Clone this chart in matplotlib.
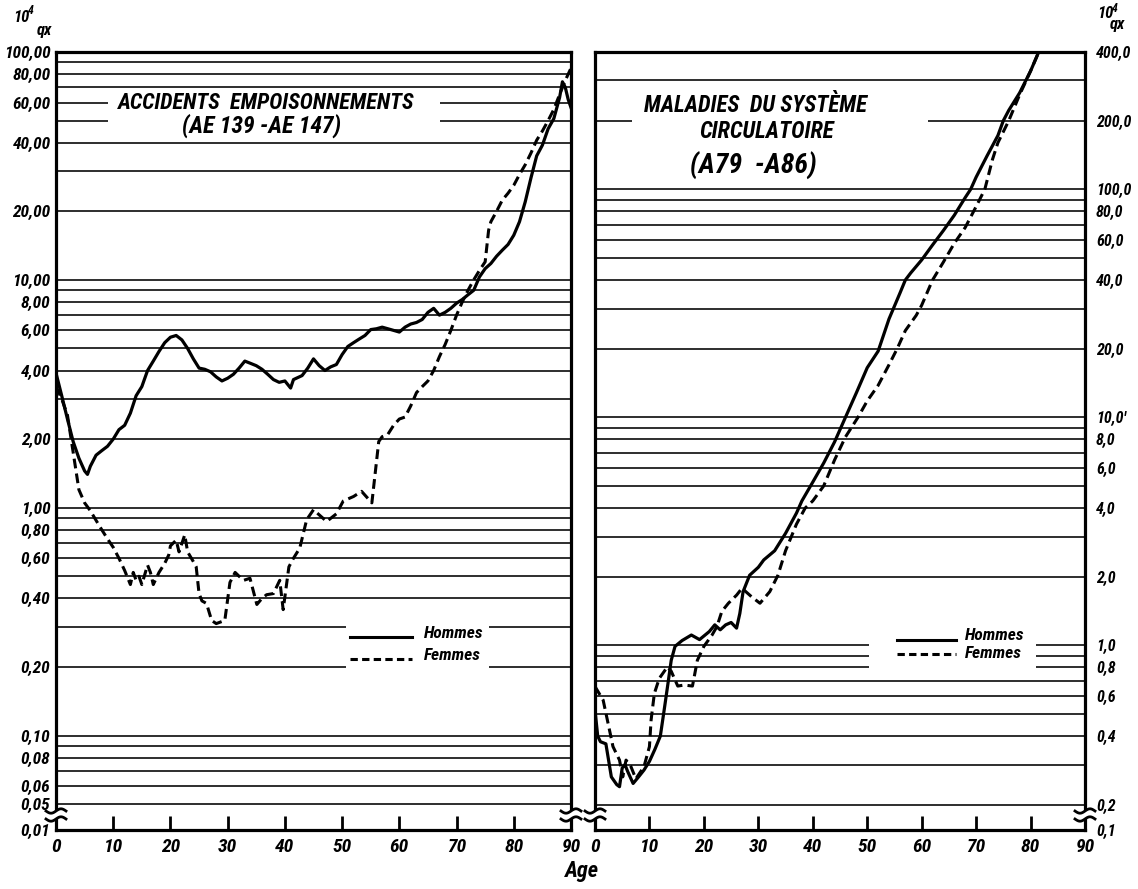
import numpy as np
import matplotlib
matplotlib.use("Agg")
import matplotlib.pyplot as plt
from matplotlib import font_manager
from matplotlib.font_manager import FontProperties
from matplotlib.patches import Rectangle
from matplotlib.lines import Line2D
from matplotlib.ticker import NullLocator

# ---------------- data ----------------
age_ticks = [0, 10, 20, 30, 40, 50, 60, 70, 80, 90]
age_tick_labels = ["0", "10", "20", "30", "40", "50", "60", "70", "80", "90"]

# Accidents, empoisonnements - Hommes
acc_h_age = [0, 1, 2, 3, 4, 5, 5.5, 6, 7, 8, 9, 10, 11, 12, 13, 14, 15, 16, 17, 18, 19,
             20, 21, 22, 23, 24, 25, 26, 27, 28, 29, 30, 31, 32, 33, 34, 35, 36, 37, 38,
             39, 40, 41, 41.5, 42, 43, 44, 45, 46, 47, 48, 49, 50, 51, 52, 53, 54, 55,
             56, 57, 58, 59, 60, 61, 62, 63, 64, 65, 66, 67, 68, 69, 70, 71, 72, 73, 74,
             75, 76, 77, 78, 79, 80, 81, 82, 83, 84, 85, 86, 87, 88, 88.5, 89, 89.5, 90]
acc_h_val = [3.9, 3.1, 2.45, 1.95, 1.65, 1.45, 1.40, 1.52, 1.70, 1.78, 1.86, 2.0, 2.2,
             2.3, 2.6, 3.1, 3.4, 4.0, 4.4, 4.85, 5.3, 5.6, 5.7, 5.45, 5.0, 4.5, 4.1, 4.05,
             3.95, 3.75, 3.6, 3.7, 3.85, 4.1, 4.4, 4.3, 4.2, 4.05, 3.85, 3.65, 3.55, 3.6,
             3.35, 3.65, 3.7, 3.8, 4.1, 4.5, 4.2, 4.0, 4.15, 4.25, 4.7, 5.1, 5.3, 5.5, 5.7,
             6.05, 6.1, 6.2, 6.1, 6.0, 5.9, 6.2, 6.4, 6.5, 6.7, 7.2, 7.5, 7.0, 7.2, 7.5,
             7.9, 8.2, 8.6, 9.0, 10.3, 11.2, 11.8, 12.7, 13.5, 14.3, 15.7, 18, 22, 28, 35,
             39, 46, 51, 63, 74, 70, 62, 57]

# Accidents, empoisonnements - Femmes
acc_f_age = [0, 0.5, 1, 2, 3, 4, 5, 6, 7, 8, 9, 10, 11, 12, 13, 13.5, 14, 14.5, 15, 16,
             16.5, 17, 18, 19, 19.7, 20, 20.5, 21, 21.5, 22.5, 23, 24, 24.5, 25, 25.5,
             26.3, 27.2, 28, 29.5, 30.4, 31.3, 32, 32.8, 33.9, 35.1, 36, 36.8, 38, 39.1,
             39.7, 40.7, 41.5, 42.6, 43.8, 45, 46, 47.3, 49, 50.2, 52, 53.4, 55.2, 56.4,
             57, 58, 59, 60, 61, 62, 63, 64, 65, 66, 67, 68, 69, 70, 71, 72, 73, 74, 75,
             75.6, 76, 77, 78, 79, 80, 81, 82, 83, 84, 85, 86, 87, 88, 89, 90]
acc_f_val = [3.4, 3.2, 3.0, 2.55, 1.75, 1.2, 1.05, 0.97, 0.88, 0.80, 0.73, 0.67, 0.60,
             0.53, 0.46, 0.52, 0.48, 0.50, 0.46, 0.56, 0.52, 0.46, 0.52, 0.57, 0.62, 0.68,
             0.70, 0.72, 0.64, 0.76, 0.64, 0.58, 0.55, 0.42, 0.39, 0.38, 0.32, 0.31, 0.32,
             0.47, 0.52, 0.50, 0.48, 0.49, 0.376, 0.40, 0.415, 0.42, 0.48, 0.357, 0.55,
             0.60, 0.665, 0.885, 0.98, 0.93, 0.87, 0.94, 1.07, 1.12, 1.18, 1.05, 1.95,
             2.05, 2.1, 2.3, 2.45, 2.5, 2.8, 3.2, 3.4, 3.6, 4.0, 4.6, 5.2, 6.0, 7.0, 8.0,
             9.0, 10.0, 11.0, 12.0, 16.5, 18.0, 20.0, 22.4, 24.0, 26.0, 29.0, 32.0, 36.0,
             41.0, 45.0, 50.0, 56.0, 65.0, 75.0, 85.0]

# Maladies du systeme circulatoire - Hommes
circ_h_age = [0, 0.5, 1, 2, 3, 4, 4.5, 5, 5.5, 6, 7, 8, 9, 10, 11, 12, 12.8, 13.4, 14,
              14.7, 16, 17.7, 19.2, 21, 22, 23, 24, 25, 26, 26.6, 27.2, 28.4, 30, 31, 33,
              35, 37, 38, 40, 42, 44, 46, 48, 50, 52, 54, 56, 57, 58, 60, 62, 64, 66, 68,
              69, 70, 72, 74, 75, 76, 78, 80, 81.5]
circ_h_val = [0.52, 0.40, 0.378, 0.37, 0.265, 0.245, 0.24, 0.29, 0.30, 0.28, 0.248,
              0.265, 0.284, 0.31, 0.35, 0.40, 0.54, 0.68, 0.86, 0.99, 1.05, 1.11, 1.06,
              1.15, 1.23, 1.17, 1.23, 1.26, 1.19, 1.38, 1.72, 2.03, 2.2, 2.37, 2.6, 3.1,
              3.8, 4.3, 5.2, 6.3, 7.8, 10.0, 12.8, 16.5, 19.5, 27.0, 35.0, 40.0, 43.0, 49.0,
              57.0, 66.0, 77.0, 92.0, 100.0, 113.0, 140.0, 172.0, 200.0, 222.0, 265.0,
              330.0, 400.0]

# Maladies du systeme circulatoire - Femmes
circ_f_age = [0, 1.5, 2.4, 3.3, 4.5, 5.1, 5.7, 6.6, 7.5, 9, 10, 10.3, 10.9, 11.8, 13.3,
              14, 15.2, 16.4, 17.9, 18.8, 20, 21.5, 22.4, 23.3, 24.5, 26, 27, 28.8, 30.3,
              32.1, 33.6, 35, 37, 38.6, 40, 42, 44, 46, 48.3, 50, 52, 54, 55.5, 57, 59, 60,
              62, 64, 66, 68, 70, 71.6, 73, 74, 76, 78, 80, 81.5]
circ_f_val = [0.66, 0.575, 0.455, 0.36, 0.314, 0.265, 0.314, 0.294, 0.26, 0.294, 0.36,
              0.47, 0.615, 0.716, 0.805, 0.77, 0.663, 0.67, 0.663, 0.86, 0.99, 1.11, 1.21,
              1.41, 1.53, 1.66, 1.78, 1.63, 1.53, 1.72, 2.03, 2.6, 3.4, 4.0, 4.3, 5.0, 6.5,
              8.2, 10.0, 11.8, 13.8, 17.0, 20.0, 24.0, 28.0, 31.0, 40.0, 48.0, 58.0, 68.0,
              84.0, 100.0, 135.0, 160.0, 200.0, 260.0, 330.0, 400.0]

# grid lines (log paper) and axis labels
acc_grid = [90, 80, 70, 60, 50, 40, 30, 20, 10, 9, 8, 7, 6, 5, 4, 3, 2, 1,
            0.9, 0.8, 0.7, 0.6, 0.5, 0.4, 0.3, 0.2, 0.1, 0.09, 0.08, 0.07, 0.06, 0.05]
acc_tick_vals = [100, 80, 60, 40, 20, 10, 8, 6, 4, 2, 1, 0.8, 0.6, 0.4, 0.2, 0.1,
                 0.08, 0.06, 0.05]
acc_tick_labels = ["100,00", "80,00", "60,00", "40,00", "20,00", "10,00", "8,00",
                   "6,00", "4,00", "2,00", "1,00", "0,80", "0,60", "0,40", "0,20",
                   "0,10", "0,08", "0,06", "0,05"]
acc_break_label = "0,01"

circ_grid = [300, 200, 100, 90, 80, 70, 60, 50, 40, 30, 20, 10, 9, 8, 7, 6, 5, 4, 3, 2,
             1, 0.9, 0.8, 0.7, 0.6, 0.5, 0.4, 0.3, 0.2]
circ_tick_vals = [400, 200, 100, 80, 60, 40, 20, 10, 8, 6, 4, 2, 1, 0.8, 0.6, 0.4, 0.2]
circ_tick_labels = ["400,0", "200,0", "100,0", "80,0", "60,0", "40,0", "20,0", "10,0'",
                    "8,0", "6,0", "4,0", "2,0", "1,0", "0,8", "0,6", "0,4", "0,2"]
circ_break_label = "0,1"

title_acc = ["ACCIDENTS  EMPOISONNEMENTS", "(AE 139 -AE 147)"]
title_circ = ["MALADIES  DU SYSTÈME", "CIRCULATOIRE", "(A79  -A86)"]
legend_labels = ["Hommes", "Femmes"]


# ---------------- style / layout ----------------
def pick_font():
    cands = [("Liberation Sans Narrow", "normal"), ("Roboto Condensed", "normal"),
             ("DejaVu Sans", "condensed"), ("Open Sans", "condensed"),
             ("Roboto", "normal"), ("DejaVu Sans", "normal")]
    for fam, st in cands:
        fp = FontProperties(family=fam, stretch=st, weight="bold", style="italic")
        try:
            path = font_manager.findfont(fp, fallback_to_default=False)
        except Exception:
            continue
        if st == "condensed" and "ondensed" not in path:
            continue
        if fam == "Liberation Sans Narrow" and "Narrow" not in path:
            continue
        return fam, st
    return "DejaVu Sans", "normal"


FAM, STRETCH = pick_font()
NARROW = STRETCH == "condensed" or "Narrow" in FAM or "Condensed" in FAM
SC = 1.0 if NARROW else 0.86
fkw = dict(family=FAM, stretch=STRETCH, weight="bold", style="italic")

W, H = 1138, 889
fig = plt.figure(figsize=(W / 100, H / 100), dpi=100)
fig.patch.set_facecolor("white")

LBOX = (56, 52, 571, 830)
RBOX = (595, 52, 1085, 830)
ACC_YLIM = (0.0385, 100)
CIRC_YLIM = (0.155, 400)
DASH = (0, (3.2, 1.7))


def P(x, y):
    return (x / W, (H - y) / H)


def fig_line(xs, ys, **kw):
    fig.add_artist(Line2D([x / W for x in xs], [(H - y) / H for y in ys],
                          transform=fig.transFigure, **kw))


def fig_rect(x0, y0, x1, y1, z=10):
    fig.add_artist(Rectangle(P(x0, y1), (x1 - x0) / W, (y1 - y0) / H,
                             transform=fig.transFigure, facecolor="white",
                             edgecolor="none", zorder=z))


def make_ax(box, ylim, grid, tvals, tlabels, blabel, right):
    x0, y0, x1, y1 = box
    ax = fig.add_axes([x0 / W, (H - y1) / H, (x1 - x0) / W, (y1 - y0) / H])
    ax.set_yscale("log")
    ax.set_xlim(0, 90)
    ax.set_ylim(*ylim)
    for g in grid:
        ax.axhline(g, color="black", lw=1.15, zorder=1)
    ax.yaxis.set_minor_locator(NullLocator())
    if right:
        ax.set_yticks(list(tvals) + [ylim[0]], list(tlabels) + [blabel],
                      fontsize=11.5 * SC, **fkw)
        ax.yaxis.tick_right()
        ax.tick_params(axis="y", length=0, pad=8)
    else:
        ax.set_yticks(list(tvals) + [ylim[0]], list(tlabels) + [blabel],
                      fontsize=12.5 * SC, **fkw)
        ax.tick_params(axis="y", length=0, pad=4)
    ax.set_xticks(age_ticks, age_tick_labels, fontsize=14 * SC, **fkw)
    ax.tick_params(axis="x", direction="in", length=10, width=2, pad=6)
    for s in ax.spines.values():
        s.set_linewidth(2.3)
    return ax


axL = make_ax(LBOX, ACC_YLIM, acc_grid, acc_tick_vals, acc_tick_labels, acc_break_label, False)
axR = make_ax(RBOX, CIRC_YLIM, circ_grid, circ_tick_vals, circ_tick_labels, circ_break_label, True)


def to_ax(box, x, y):
    x0, y0, x1, y1 = box
    return ((x - x0) / (x1 - x0), (y1 - y) / (y1 - y0))


def mask(ax, box, xa, ya, xb, yb):
    a = to_ax(box, xa, yb)
    b = to_ax(box, xb, ya)
    ax.add_patch(Rectangle(a, b[0] - a[0], b[1] - a[1], transform=ax.transAxes,
                           facecolor="white", edgecolor="none", zorder=2))


# masks behind titles and legends (gridlines are interrupted there)
mask(axL, LBOX, 108, 94, 440, 133)
mask(axL, LBOX, 346, 618, 489, 670)
mask(axR, RBOX, 632, 92, 928, 186)
mask(axR, RBOX, 869, 628, 1036, 674)

# curves
axL.plot(acc_h_age, acc_h_val, color="black", lw=2.3, zorder=4, solid_joinstyle="round")
axL.plot(acc_f_age, acc_f_val, color="black", lw=2.2, ls=DASH, zorder=4)
axR.plot(circ_h_age, circ_h_val, color="black", lw=2.3, zorder=4, solid_joinstyle="round")
axR.plot(circ_f_age, circ_f_val, color="black", lw=2.2, ls=DASH, zorder=4)


# legends
def legend(ax, box, lx0, lx1, y_h, y_f, tx, ty_h, ty_f):
    a0 = to_ax(box, lx0, y_h)
    a1 = to_ax(box, lx1, y_h)
    ax.plot([a0[0], a1[0]], [a0[1], a1[1]], transform=ax.transAxes, color="black",
            lw=2.2, zorder=5)
    a0 = to_ax(box, lx0, y_f)
    a1 = to_ax(box, lx1, y_f)
    ax.plot([a0[0], a1[0]], [a0[1], a1[1]], transform=ax.transAxes, color="black",
            lw=2.2, ls=(0, (2.4, 1.4)), zorder=5)
    fig.text(*P(tx, ty_h), legend_labels[0], fontsize=12.5 * SC, ha="left", va="center", **fkw)
    fig.text(*P(tx, ty_f), legend_labels[1], fontsize=12.5 * SC, ha="left", va="center", **fkw)


legend(axL, LBOX, 350, 412, 637, 659, 424, 634, 655)
legend(axR, RBOX, 897, 956, 640, 654, 965, 636, 654)

# titles
fig.text(*P(266, 103), title_acc[0], fontsize=16 * SC, ha="center", va="center", **fkw)
fig.text(*P(262, 126), title_acc[1], fontsize=17 * SC, ha="center", va="center", **fkw)
fig.text(*P(756, 105), title_circ[0], fontsize=16.5 * SC, ha="center", va="center", **fkw)
fig.text(*P(767, 132), title_circ[1], fontsize=16.5 * SC, ha="center", va="center", **fkw)
fig.text(*P(753, 166), title_circ[2], fontsize=20 * SC, ha="center", va="center", **fkw)

# unit labels 10^4 qx
for x10, y10, xq, yq in [(13, 17, 37, 31), (1097, 14, 1110, 25)]:
    fig.text(*P(x10, y10), "10", fontsize=12 * SC, ha="left", va="center", **fkw)
    fig.text(*P(x10 + 15, y10 - 6), "4", fontsize=8.5 * SC, ha="left", va="center", **fkw)
    fig.text(*P(xq, yq), "qx", fontsize=12 * SC, ha="left", va="center", **fkw)

fig.text(*P(582, 871), "Age", fontsize=16 * SC, ha="center", va="center", **fkw)


# axis break marks
def break_mark(x, y):
    fig_rect(x - 3, y - 4, x + 3, y + 4, z=10)
    t = np.linspace(-1, 1, 30)
    for dy in (-4, 4):
        fig_line(x + 10 * t, y + dy - 2.2 * np.sin(np.pi * t), color="black", lw=2.0,
                 zorder=11)


for bx in (LBOX[0], LBOX[2], RBOX[0], RBOX[2]):
    break_mark(bx, 815)

fig.savefig("out.png", dpi=100, facecolor="white")
